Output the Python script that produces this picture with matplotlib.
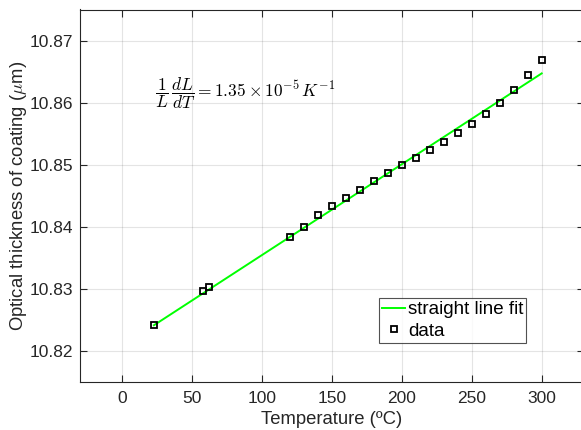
import matplotlib
matplotlib.use("Agg")
import matplotlib.pyplot as plt
import numpy as np

plt.rcParams['font.family'] = ['Liberation Sans', 'DejaVu Sans']
plt.rcParams['mathtext.fontset'] = 'cm'

temps = [23, 58, 62, 120, 130, 140, 150, 160, 170, 180, 190, 200, 210, 220,
         230, 240, 250, 260, 270, 280, 290, 300]
thickness = [10.8241, 10.8296, 10.8303, 10.8384, 10.8399, 10.8419, 10.8433,
             10.8446, 10.8459, 10.8473, 10.8486, 10.8499, 10.8511, 10.8524,
             10.8537, 10.8551, 10.8566, 10.8582, 10.8600, 10.8620, 10.8644,
             10.8668]
fit_x = [23, 300]
fit_y = [10.8241, 10.8647]

xticks = [0, 50, 100, 150, 200, 250, 300]
yticks = [10.82, 10.83, 10.84, 10.85, 10.86, 10.87]

W, H = 581, 430
fig = plt.figure(figsize=(W / 100, H / 100), dpi=100)
L, R, T, B = 79.7, 583.7, 9.5, 381.7
ax = fig.add_axes([L / W, 1 - B / H, (R - L) / W, (B - T) / H])

axc = (0.15, 0.15, 0.15)
ax.plot(fit_x, fit_y, color=(0, 1, 0), lw=1.4, label='straight line fit', zorder=3)
ax.plot(temps, thickness, ls='none', marker='s', ms=5, mfc='none', mec='black',
        mew=1.3, label='data', zorder=4)

ax.set_xlim(-30, 330)
ax.set_ylim(10.815, 10.875)
ax.set_xticks(xticks)
ax.set_yticks(yticks)
ax.set_yticklabels([f'{v:.2f}' for v in yticks])
ax.grid(True, color=axc, alpha=0.12, lw=0.8)
ax.set_axisbelow(True)
ax.tick_params(direction='in', top=True, right=True, labelsize=12.5, colors=axc,
               length=5, width=0.8)
ax.tick_params(axis='x', pad=7)
ax.tick_params(axis='y', pad=5)
for s in ax.spines.values():
    s.set_color(axc)
    s.set_linewidth(0.8)

ax.set_xlabel('Temperature (\u00baC)', fontsize=13.3, color=axc, labelpad=3)
ax.set_ylabel(r'Optical thickness of coating ($\mu$m)', fontsize=13.3, color=axc, labelpad=0)

ax.text(24, 10.8615, r'$\dfrac{1}{L}\,\dfrac{dL}{dT} = 1.35\times10^{-5}\,K^{-1}$',
        fontsize=12.5, va='center', ha='left')

leg = ax.legend(loc='lower left', bbox_to_anchor=((379 - L) / (R - L), (B - 342.7) / (B - T)),
                fontsize=13.5, frameon=True, fancybox=False, edgecolor=axc,
                handlelength=1.25, handletextpad=0.15, borderpad=0.15, labelspacing=0.25,
                borderaxespad=0)
leg.get_frame().set_linewidth(0.8)

fig.savefig('out.png', dpi=100)
